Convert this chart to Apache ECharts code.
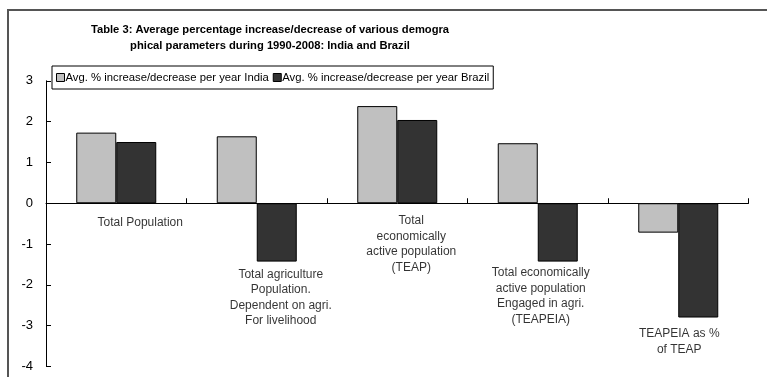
<!DOCTYPE html>
<html>
<head>
<meta charset="utf-8">
<script src="https://cdn.jsdelivr.net/npm/echarts@6/dist/echarts.min.js"></script>
<style>
  html, body { margin: 0; padding: 0; background: #fff; }
  #chart { width: 767px; height: 377px; }
</style>
</head>
<body>
<div id="chart"></div>
<script>
// Categories (multi-line labels) and per-year average % change for each country
const categories = [
  'Total Population',
  'Total agriculture\nPopulation.\nDependent on agri.\nFor livelihood',
  'Total\neconomically\nactive population\n(TEAP)',
  'Total economically\nactive population\nEngaged in agri.\n(TEAPEIA)',
  'TEAPEIA as %\nof TEAP'
];
const seriesNames = [
  'Avg. % increase/decrease per year India',
  'Avg. % increase/decrease per year Brazil'
];
const india = [1.73, 1.64, 2.38, 1.47, -0.72];
const brazil = [1.50, -1.43, 2.04, -1.43, -2.80];
const yTicks = { min: -4, max: 3, interval: 1 };

// Category captions hang below the lowest mark of each group; small nudges [dx, dy]
const labelNudge = [[24, 7], [24, 0], [14, 5], [3, -1.5], [1, 3.5]];

const font = '"Liberation Sans", Arial, sans-serif';
const chart = echarts.init(document.getElementById('chart'));

const captionData = categories.map((c, i) => ({
  value: [i, Math.min(0, india[i], brazil[i])],
  label: { offset: [labelNudge[i][0], labelNudge[i][1]] }
}));

chart.setOption({
  animation: false,
  graphic: [{
    type: 'rect',
    shape: { x: 8, y: 10, width: 800, height: 400 },
    style: { fill: 'none', stroke: '#555', lineWidth: 2 },
    silent: true
  }],
  title: {
    text: 'Table 3: Average percentage increase/decrease of various demogra\nphical parameters during 1990-2008: India and Brazil',
    left: 265,
    top: 17,
    textAlign: 'center',
    textStyle: { fontFamily: font, fontSize: 11.2, fontWeight: 'bold', color: '#000', lineHeight: 16 }
  },
  legend: {
    data: seriesNames,
    left: 52,
    top: 66,
    orient: 'horizontal',
    icon: 'rect',
    itemWidth: 8,
    itemHeight: 8,
    itemGap: 4,
    padding: [6, 4, 6, 4],
    borderColor: '#000',
    borderWidth: 1,
    textStyle: { fontFamily: font, fontSize: 11.3, color: '#000', padding: [0, 0, 0, -4] },
    itemStyle: { borderColor: '#000', borderWidth: 1 }
  },
  grid: { left: 46, right: 18.5, top: 80.8, bottom: 10.5, containLabel: false },
  xAxis: {
    type: 'category',
    data: categories,
    axisLine: { onZero: true, lineStyle: { color: '#000', width: 1 } },
    axisTick: { show: true, inside: true, length: 5, lineStyle: { color: '#000' } },
    axisLabel: { show: false },
    splitLine: { show: false }
  },
  yAxis: {
    type: 'value',
    min: yTicks.min,
    max: yTicks.max,
    interval: yTicks.interval,
    axisLine: { show: true, lineStyle: { color: '#000', width: 1 } },
    axisTick: { show: true, inside: true, length: 5, lineStyle: { color: '#000' } },
    axisLabel: { fontFamily: font, fontSize: 13, color: '#000', margin: 13 },
    splitLine: { show: false }
  },
  series: [
    {
      name: seriesNames[0],
      type: 'bar',
      data: india,
      barWidth: 40,
      barGap: '0%',
      itemStyle: { color: '#c0c0c0', borderColor: '#000', borderWidth: 1 }
    },
    {
      name: seriesNames[1],
      type: 'bar',
      data: brazil,
      barWidth: 40,
      barGap: '0%',
      itemStyle: { color: '#333333', borderColor: '#000', borderWidth: 1 }
    },
    {
      name: 'captions',
      type: 'scatter',
      data: captionData,
      symbolSize: 0,
      silent: true,
      z: 5,
      label: {
        show: true,
        position: 'bottom',
        distance: 5,
        align: 'center',
        fontFamily: font,
        fontSize: 12,
        lineHeight: 15.5,
        color: '#000',
        formatter: p => categories[p.dataIndex]
      }
    }
  ]
});
</script>
</body>
</html>
